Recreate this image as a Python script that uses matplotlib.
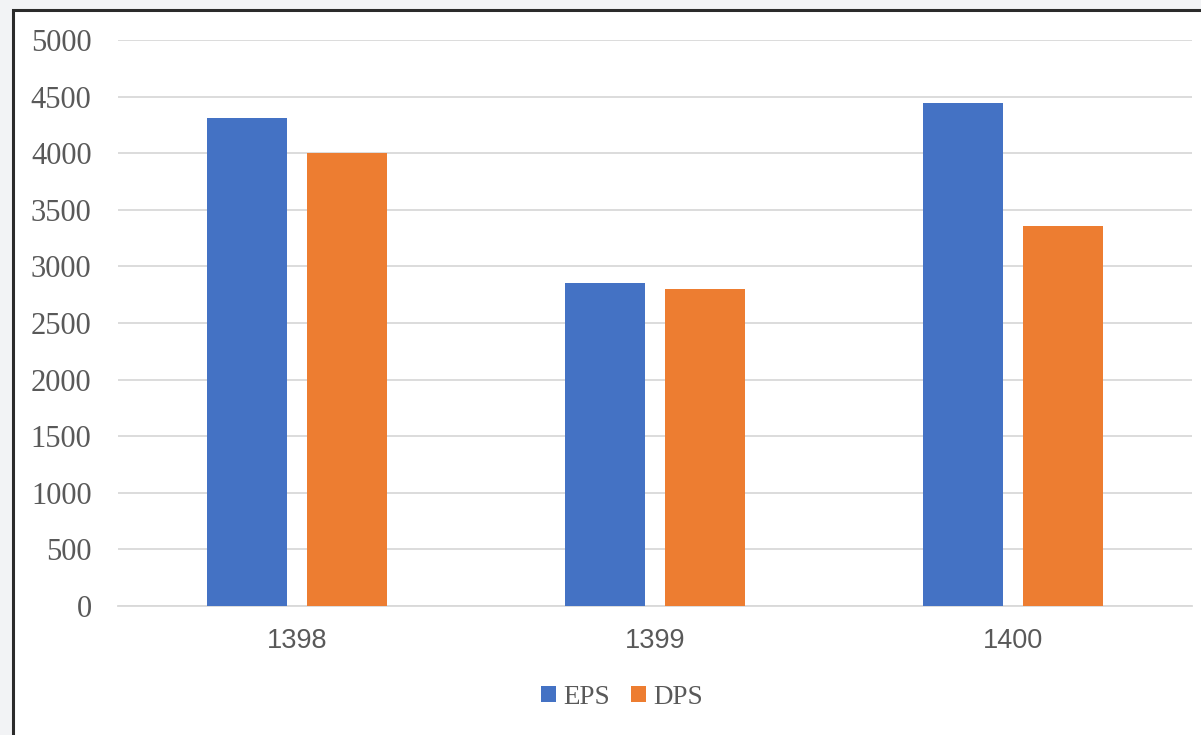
import numpy as np
import matplotlib.pyplot as plt
from matplotlib.patches import Rectangle

years = ['1398', '1399', '1400']
eps = [4310, 2855, 4440]
dps = [4000, 2800, 3360]

blue = '#4472c4'
orange = '#ed7d31'

fig = plt.figure(figsize=(12.01, 7.35), dpi=100)
fig.patch.set_facecolor('#f2f3f5')

# white panel with dark border, cut off on the right and bottom
panel = Rectangle((12.5 / 1201, -0.05), 1.1, 1 - 9.5 / 735 + 0.05,
                  transform=fig.transFigure, facecolor='white',
                  edgecolor='#2b2b2b', linewidth=2.2, zorder=-10)
fig.patches.append(panel)

ax = fig.add_axes([118 / 1201, 1 - 606 / 735, (1192 - 118) / 1201, (606 - 40) / 735])
ax.set_facecolor('none')

x = np.arange(len(years))
w = 0.2235
off = 0.141
ax.bar(x - off, eps, w, color=blue, label='EPS', zorder=3)
ax.bar(x + off, dps, w, color=orange, label='DPS', zorder=3)

ax.set_xlim(-0.5, len(years) - 0.5)
ax.set_ylim(0, 5000)
ax.set_yticks(np.arange(0, 5001, 500))
ax.grid(axis='y', color='#d9d9d9', linewidth=1.3, zorder=0)
ax.grid(axis='x', visible=False)
for s in ['top', 'right', 'left']:
    ax.spines[s].set_visible(False)
ax.spines['bottom'].set_color('#d9d9d9')
ax.spines['bottom'].set_linewidth(1.3)

ax.set_xticks(x)
ax.set_xticklabels(years, fontfamily='Liberation Sans', fontsize=19.5, color='#595959')
for lab in ax.get_yticklabels():
    lab.set_fontfamily('Liberation Serif')
    lab.set_fontsize(22)
    lab.set_color('#595959')
ax.tick_params(axis='y', length=0, pad=19)
ax.tick_params(axis='x', length=0, pad=16)

leg = fig.legend(loc='center', bbox_to_anchor=(622 / 1201, 1 - 697 / 735), ncol=2,
                 frameon=False, handlelength=0.55, handleheight=0.55, handletextpad=0.3,
                 columnspacing=0.75, prop={'family': 'Liberation Serif', 'size': 19.5})
for t in leg.get_texts():
    t.set_color('#595959')

plt.savefig('out.png', dpi=100, facecolor=fig.get_facecolor())
